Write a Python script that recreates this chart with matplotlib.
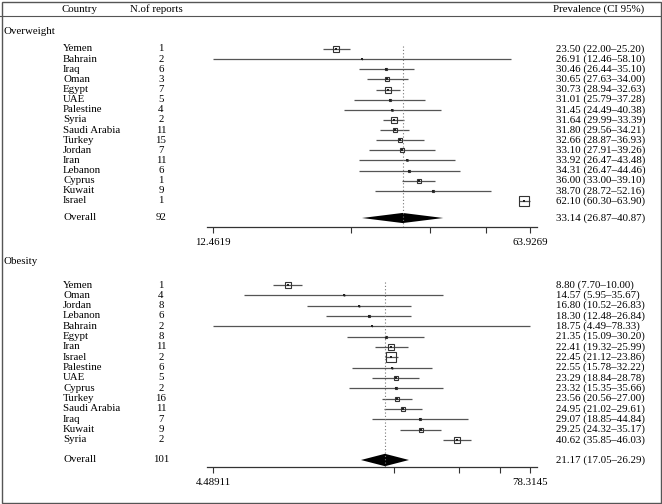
import numpy as np
import matplotlib
matplotlib.use('Agg')
from matplotlib import pyplot as plt
from matplotlib.transforms import blended_transform_factory
from matplotlib.lines import Line2D

plt.rcParams['font.family'] = ['Liberation Serif', 'DejaVu Serif']
plt.rcParams['font.size'] = 7.8

# overweight data
ow_country = ['Yemen', 'Bahrain', 'Iraq', 'Oman', 'Egypt', 'UAE', 'Palestine', 'Syria',
              'Saudi Arabia', 'Turkey', 'Jordan', 'Iran', 'Lebanon', 'Cyprus', 'Kuwait', 'Israel']
ow_n = [1, 2, 6, 3, 7, 5, 4, 2, 11, 15, 7, 11, 6, 1, 9, 1]
ow_est = [23.50, 26.91, 30.46, 30.65, 30.73, 31.01, 31.45, 31.64,
          31.80, 32.66, 33.10, 33.92, 34.31, 36.00, 38.70, 62.10]
ow_lo = [22.00, 12.46, 26.44, 27.63, 28.94, 25.79, 24.49, 29.99,
         29.56, 28.87, 27.91, 26.47, 26.47, 33.00, 28.72, 60.30]
ow_hi = [25.20, 58.10, 35.10, 34.00, 32.63, 37.28, 40.38, 33.39,
         34.21, 36.93, 39.26, 43.48, 44.46, 39.10, 52.16, 63.90]
ow_w = [10.1, 0.1, 1.6, 3.6, 10.1, 2.5, 0.9, 10.1, 6.5, 3.6, 3.6, 0.9, 1.6, 6.5, 1.6, 36.4]
ow_overall = (92, 33.14, 26.87, 40.87)
ow_range = (12.4619, 63.9269)

# obesity data
ob_country = ['Yemen', 'Oman', 'Jordan', 'Lebanon', 'Bahrain', 'Egypt', 'Iran', 'Israel',
              'Palestine', 'UAE', 'Cyprus', 'Turkey', 'Saudi Arabia', 'Iraq', 'Kuwait', 'Syria']
ob_n = [1, 4, 8, 6, 2, 8, 11, 2, 6, 5, 2, 16, 11, 7, 9, 2]
ob_est = [8.80, 14.57, 16.80, 18.30, 18.75, 21.35, 22.41, 22.45,
          22.55, 23.29, 23.32, 23.56, 24.95, 29.07, 29.25, 40.62]
ob_lo = [7.70, 5.95, 10.52, 12.48, 4.49, 15.09, 19.32, 21.12,
         15.78, 18.84, 15.35, 20.56, 21.02, 18.85, 24.32, 35.85]
ob_hi = [10.00, 35.67, 26.83, 26.84, 78.33, 30.20, 25.99, 23.86,
         32.22, 28.78, 35.66, 27.00, 29.61, 44.84, 35.17, 46.03]
ob_w = [10.0, 0.4, 0.4, 1.6, 0.1, 1.6, 10.0, 39.9, 0.4, 6.4, 1.6, 6.4, 4.9, 1.6, 4.9, 10.0]
ob_overall = (101, 21.17, 17.05, 26.29)
ob_range = (4.48911, 78.3145)

W, H = 662, 504
fig = plt.figure(figsize=(W / 100, H / 100), dpi=100)


def fy(py):
    return 1 - py / H


def panel(title, title_py, top_py, row0_py, row_step, overall_py, axis_py,
          country, n, est, lo, hi, w, overall, rng, dh):
    # axes in pixel box, y in row units
    ax = fig.add_axes([207 / W, fy(axis_py), (537 - 207) / W, (axis_py - top_py) / H])
    ax.set_xscale('log')
    l0, l1 = np.log(rng[0]), np.log(rng[1])
    per = (l1 - l0) / (530 - 213)
    ax.set_xlim(np.exp(l0 - 6 * per), np.exp(l1 + 7 * per))
    ybot = (axis_py - row0_py) / row_step
    ytop = (top_py - row0_py) / row_step
    ax.set_ylim(ybot, ytop)
    y_over = (overall_py - row0_py) / row_step

    rows = np.arange(len(country))
    ax.hlines(rows, lo, hi, color='#555555', lw=0.9)
    sizes = 1.65 * np.sqrt(np.array(w)) * 0.72
    for r, e, s in zip(rows, est, sizes):
        ax.plot(e, r, marker='s', ms=s, mfc='none', mec='#333333', mew=0.8)
        ax.plot(e, r, marker='s', ms=2.0, color='#222222', mew=0)

    ne, nlo, nhi = overall[1], overall[2], overall[3]
    ax.fill([nlo, ne, nhi, ne], [y_over, y_over - dh, y_over, y_over + dh],
            color='black', lw=0)
    ax.plot([ne, ne], [-0.3, ybot], ls=(0, (1, 2)), color='#777777', lw=0.8)

    ticks = np.linspace(rng[0], rng[1], 5)
    ax.minorticks_off()
    ax.set_xticks(ticks)
    ax.set_xticklabels(['%g' % rng[0], '', '', '', '%g' % rng[1]])
    ax.tick_params(axis='x', length=4, width=0.8, pad=4, labelsize=7.8, color='#333333')
    ax.set_yticks([])
    for sp in ['top', 'left', 'right']:
        ax.spines[sp].set_visible(False)
    ax.spines['bottom'].set_linewidth(0.9)
    ax.spines['bottom'].set_color('#333333')

    tr = blended_transform_factory(fig.transFigure, ax.transData)
    for r in rows:
        ax.text(63 / W, r, country[r], transform=tr, va='center', ha='left')
        ax.text(161 / W, r, str(n[r]), transform=tr, va='center', ha='center')
        ax.text(556 / W, r, '%.2f (%.2f\u2013%.2f)' % (est[r], lo[r], hi[r]),
                transform=tr, va='center', ha='left')
    ax.text(63 / W, y_over, 'Overall', transform=tr, va='center', ha='left')
    ax.text(161 / W, y_over, str(overall[0]), transform=tr, va='center', ha='center')
    ax.text(556 / W, y_over, '%.2f (%.2f\u2013%.2f)' % (ne, nlo, nhi),
            transform=tr, va='center', ha='left')
    fig.text(3 / W, fy(title_py), title, va='center', ha='left')


panel('Overweight', 32, 40, 49, 10.13, 218, 227,
      ow_country, ow_n, ow_est, ow_lo, ow_hi, ow_w, ow_overall, ow_range, 0.5)
panel('Obesity', 261, 276, 285, 10.33, 460, 467,
      ob_country, ob_n, ob_est, ob_lo, ob_hi, ob_w, ob_overall, ob_range, 0.6)

# header
fig.text(62 / W, fy(9.5), 'Country', va='center', ha='left')
fig.text(130 / W, fy(9.5), 'N.of reports', va='center', ha='left')
fig.text(553 / W, fy(9.5), 'Prevalence (CI 95%)', va='center', ha='left')
fig.add_artist(Line2D([0, 1], [fy(15.5), fy(15.5)], color='#555555', lw=0.8))
fig.add_artist(plt.Rectangle((1.5 / W, 1.5 / H), (W - 3) / W, (H - 3) / H,
                             fill=False, ec='#555555', lw=1.0, transform=fig.transFigure))

fig.savefig('out.png', dpi=100)
